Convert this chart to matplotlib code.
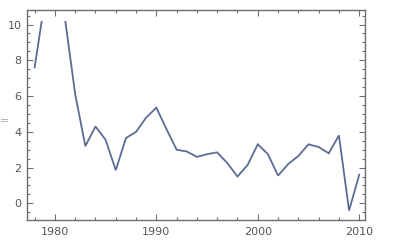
import numpy as np
import matplotlib
matplotlib.use('Agg')
import matplotlib.pyplot as plt
from matplotlib.patches import Rectangle
from matplotlib.ticker import MultipleLocator

# yearly values (1979/1980 lie above the plot range)
years = list(range(1978, 2011))
values = [7.6, 11.3, 13.5, 10.3, 6.1, 3.2, 4.3, 3.55, 1.85, 3.65,
          4.0, 4.8, 5.35, 4.15, 3.0, 2.9, 2.6, 2.75, 2.85, 2.25,
          1.5, 2.15, 3.3, 2.75, 1.55, 2.2, 2.65, 3.3, 3.15, 2.8,
          3.8, -0.4, 1.6]

x_ticks = [1980, 1990, 2000, 2010]
y_ticks = [0, 2, 4, 6, 8, 10]

frame_col = '#6e6e6e'
text_col = '#555555'

fig = plt.figure(figsize=(4.02, 2.46), dpi=100)
ax = fig.add_axes([0.0672, 0.1057, 0.9087 - 0.0672, 0.9593 - 0.1057])

line, = ax.plot(years, values, color='#5d6c94', lw=1.3, solid_joinstyle='miter')
# clip like the plot range (top ~10.2)
clip = Rectangle((1977, -0.93), 34, 10.2 + 0.93, transform=ax.transData)
line.set_clip_path(clip)

ax.set_xlim(1977.25, 2010.6)
ax.set_ylim(-0.93, 10.81)

ax.set_xticks(x_ticks)
ax.set_yticks(y_ticks)
ax.xaxis.set_minor_locator(MultipleLocator(2))
ax.yaxis.set_minor_locator(MultipleLocator(0.5))
ax.tick_params(which='both', direction='in', top=True, right=True,
               color=frame_col, width=0.8, labelsize=8, labelcolor=text_col)
ax.tick_params(axis='x', pad=5)
ax.tick_params(axis='y', pad=4)
ax.tick_params(which='major', length=4)
ax.tick_params(which='minor', length=2)
for s in ax.spines.values():
    s.set_color(frame_col)
    s.set_linewidth(1.0)

fig.text(0.01, 0.508, '=', color='#aaaaaa', fontsize=8, ha='center', va='center')

fig.savefig('out.png', dpi=100)
